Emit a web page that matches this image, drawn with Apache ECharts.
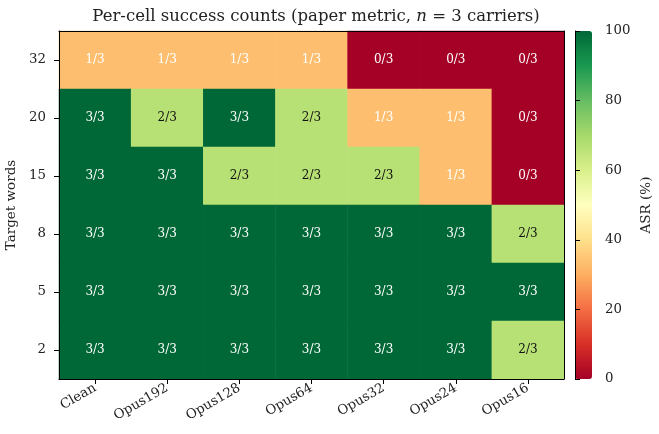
<!DOCTYPE html>
<html>
<head>
<meta charset="utf-8">
<script src="https://cdn.jsdelivr.net/npm/echarts@6/dist/echarts.min.js"></script>
<style>
  html, body { margin: 0; padding: 0; background: #fff; }
  #main { width: 659px; height: 434px; }
</style>
</head>
<body>
<div id="main"></div>
<script>
// columns: compression setting, rows: target words (top to bottom in the picture)
var codecs = ['Clean', 'Opus192', 'Opus128', 'Opus64', 'Opus32', 'Opus24', 'Opus16'];
var words = ['32', '20', '15', '8', '5', '2'];
var carriers = 3;

// successes out of 3, one row per target-word setting
var row32 = [1, 1, 1, 1, 0, 0, 0];
var row20 = [3, 2, 3, 2, 1, 1, 0];
var row15 = [3, 3, 2, 2, 2, 1, 0];
var row8  = [3, 3, 3, 3, 3, 3, 2];
var row5  = [3, 3, 3, 3, 3, 3, 3];
var row2  = [3, 3, 3, 3, 3, 3, 2];

var cbTicks = [0, 20, 40, 60, 80, 100];

var rows = [row32, row20, row15, row8, row5, row2];
var yCats = words.slice().reverse();
var cells = [];
rows.forEach(function (r, ri) {
    r.forEach(function (k, ci) {
        var d = { value: [ci, words[ri], k / carriers * 100, k] };
        if (k === 2) d.label = { color: '#111' };   // dark text on light green
        cells.push(d);
    });
});

var FONT = 'DejaVu Serif';
var FS = 13.3;
var rdylgn = ['#a50026', '#d73027', '#f46d43', '#fdae61', '#fee08b', '#ffffbf',
              '#d9ef8b', '#a6d96a', '#66bd63', '#1a9850', '#006837'];

var chart = echarts.init(document.getElementById('main'));
var option = {
    backgroundColor: '#fff',
    animation: false,
    textStyle: { fontFamily: FONT },
    title: {
        text: 'Per-cell success counts (paper metric, {i|n} = 3 carriers)',
        left: 311, top: 3, textAlign: 'center',
        textStyle: {
            fontFamily: FONT, fontSize: 16.5, fontWeight: 'normal', color: '#222',
            rich: { i: { fontFamily: FONT, fontStyle: 'italic', fontSize: 16.5, color: '#222' } }
        }
    },
    grid: [
        { left: 59, top: 31, width: 505, height: 348, outerBoundsMode: 'none', containLabel: false },
        { left: 575, top: 31, width: 17, height: 348, outerBoundsMode: 'none', containLabel: false }
    ],
    xAxis: [
        {
            type: 'category', gridIndex: 0, data: codecs, position: 'bottom',
            axisLine: { show: true, lineStyle: { color: '#000', width: 1 } },
            axisTick: { show: true, alignWithLabel: true, length: 5, lineStyle: { color: '#000' } },
            axisLabel: { rotate: 30, fontFamily: FONT, fontSize: FS, color: '#222', margin: 8 },
            splitLine: { show: false }, z: 10
        },
        {
            type: 'category', gridIndex: 0, data: codecs, position: 'top',
            axisLine: { show: true, lineStyle: { color: '#000', width: 1 } },
            axisTick: { show: false }, axisLabel: { show: false }, z: 10
        },
        { type: 'value', gridIndex: 1, show: false, min: 0, max: 1 }
    ],
    yAxis: [
        {
            type: 'category', gridIndex: 0, data: yCats, position: 'left',
            name: 'Target words', nameLocation: 'middle', nameGap: 40,
            nameTextStyle: { fontFamily: FONT, fontSize: 13.5, color: '#222' },
            axisLine: { show: true, lineStyle: { color: '#000', width: 1 } },
            axisTick: { show: true, alignWithLabel: true, length: 5, lineStyle: { color: '#000' } },
            axisLabel: { fontFamily: FONT, fontSize: FS, color: '#222', margin: 13 },
            splitLine: { show: false }, z: 10
        },
        {
            type: 'category', gridIndex: 0, data: yCats, position: 'right',
            axisLine: { show: true, lineStyle: { color: '#000', width: 1 } },
            axisTick: { show: false }, axisLabel: { show: false }, z: 10
        },
        {
            type: 'value', gridIndex: 1, position: 'right', min: 0, max: 100, interval: 20,
            name: 'ASR (%)', nameLocation: 'middle', nameGap: 47, nameRotate: 90,
            nameTextStyle: { fontFamily: FONT, fontSize: 13.5, color: '#222' },
            axisLine: { show: true, lineStyle: { color: '#000', width: 1 } },
            axisTick: { show: true, length: 5, lineStyle: { color: '#000' } },
            axisLabel: { fontFamily: FONT, fontSize: FS, color: '#222', margin: 13,
                formatter: function (v) { return cbTicks.indexOf(v) >= 0 ? String(v) : ''; } },
            splitLine: { show: false }, z: 10
        }
    ],
    visualMap: {
        type: 'continuous', min: 0, max: 100, seriesIndex: 0, dimension: 2,
        calculable: false, realtime: false, text: null, showLabel: false,
        left: 575, top: 31, itemWidth: 17, itemHeight: 348, padding: 0,
        inRange: { color: rdylgn },
        handleStyle: { opacity: 0 }, indicatorStyle: { opacity: 0 },
        borderWidth: 0
    },
    series: [
        {
            type: 'heatmap', xAxisIndex: 0, yAxisIndex: 0, data: cells,
            label: {
                show: true, fontFamily: FONT, fontSize: 12,
                formatter: function (p) { return p.value[3] + '/' + carriers; },
                color: '#fff'
            },
            itemStyle: { borderWidth: 0 },
            emphasis: { disabled: true }
        }
    ]
};
chart.setOption(option);
</script>
</body>
</html>
